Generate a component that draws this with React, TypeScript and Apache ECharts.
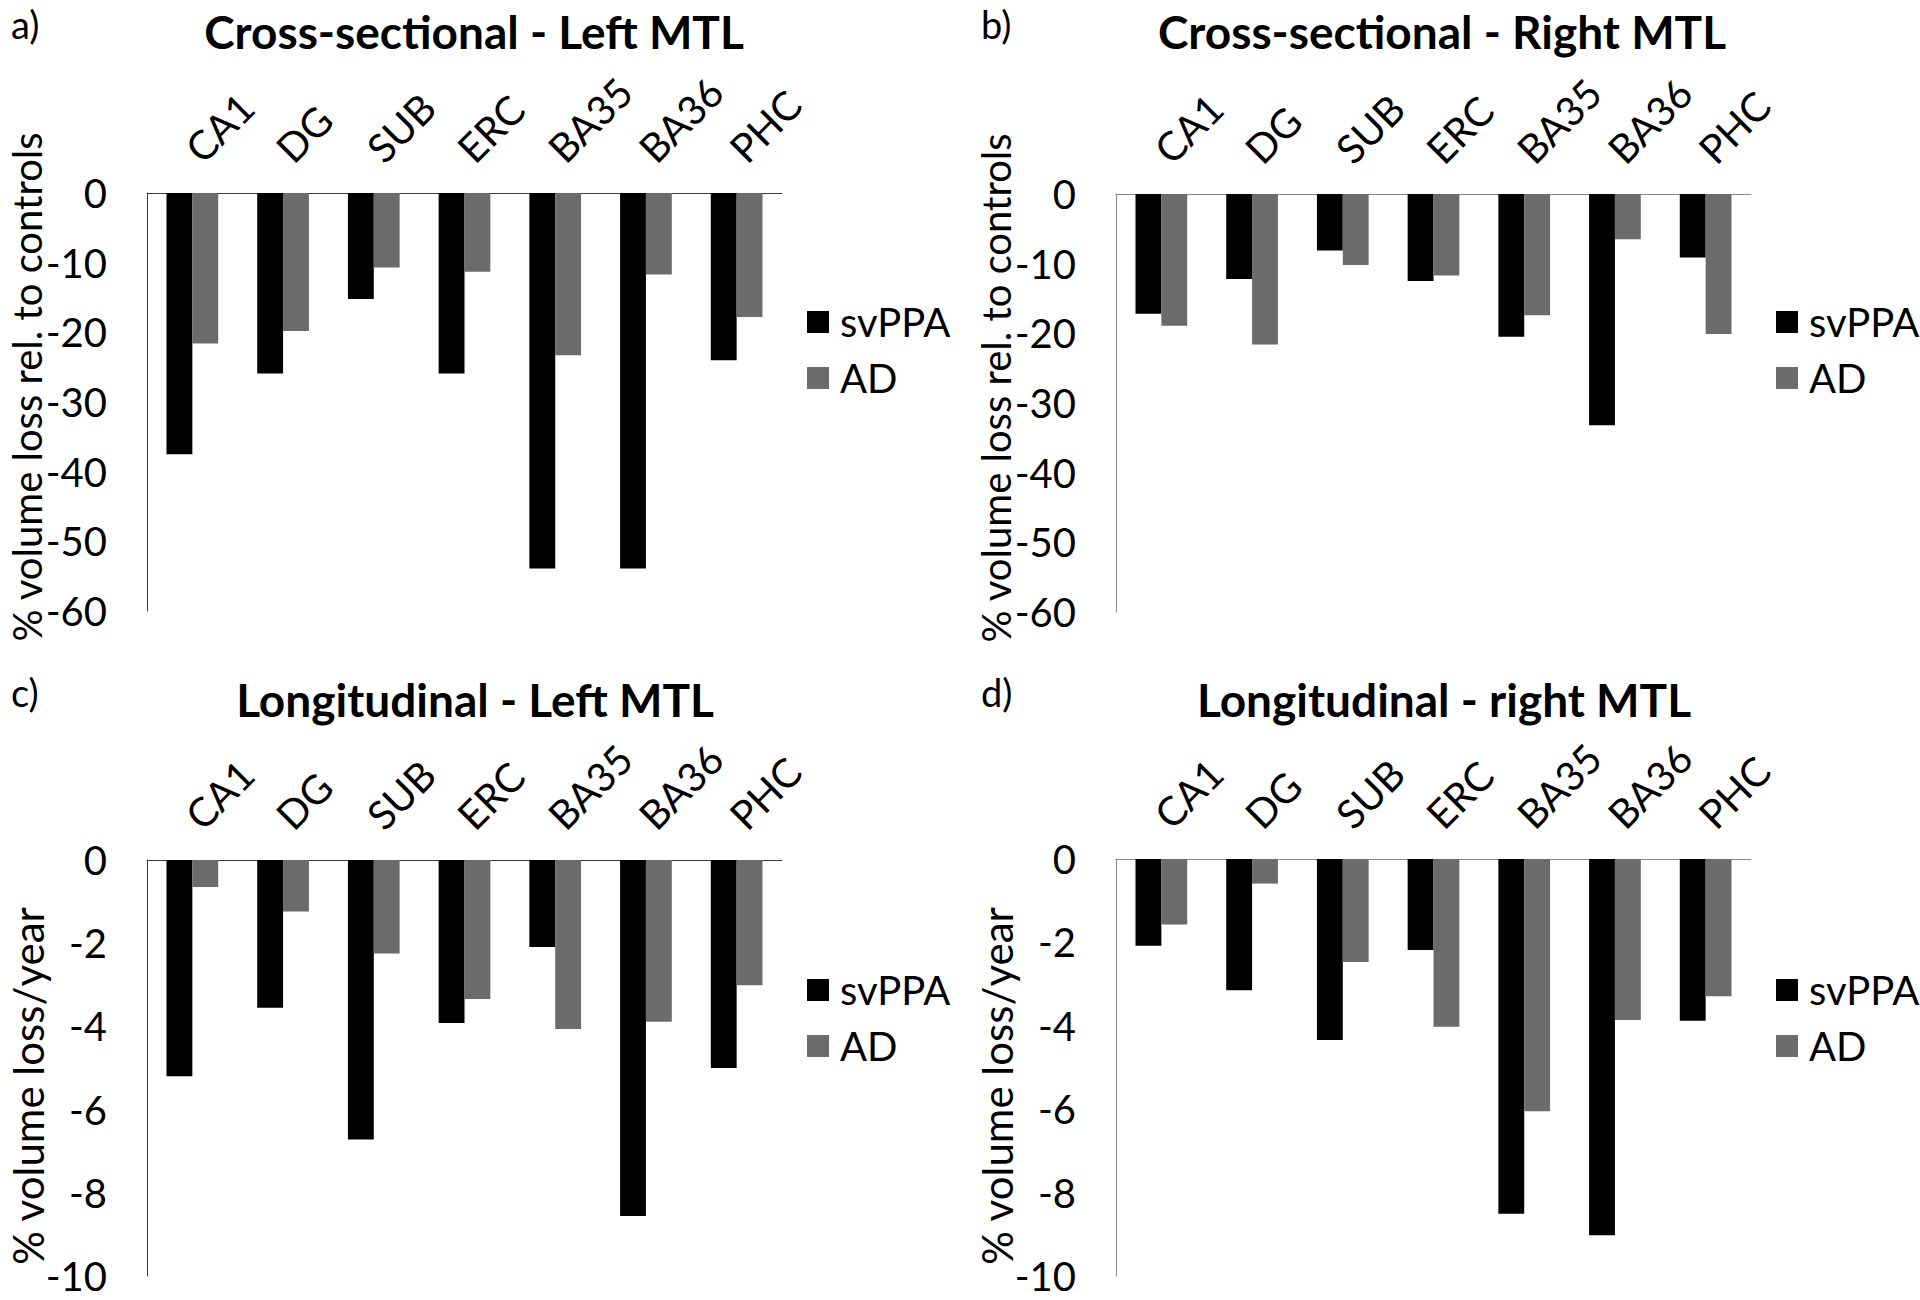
import React, { useEffect, useRef } from "react";
import * as echarts from "echarts";

const categories = ["CA1", "DG", "SUB", "ERC", "BA35", "BA36", "PHC"];
const seriesNames = ["svPPA", "AD"];

const crossLeftSvPPA = [-37.5, -25.9, -15.2, -25.9, -53.9, -53.9, -24.0];
const crossLeftAD = [-21.6, -19.8, -10.7, -11.3, -23.3, -11.7, -17.8];
const crossRightSvPPA = [-17.2, -12.2, -8.1, -12.5, -20.5, -33.2, -9.1];
const crossRightAD = [-18.9, -21.6, -10.2, -11.7, -17.4, -6.5, -20.1];
const longLeftSvPPA = [-5.2, -3.55, -6.72, -3.92, -2.09, -8.56, -5.0];
const longLeftAD = [-0.65, -1.24, -2.25, -3.34, -4.06, -3.89, -3.01];
const longRightSvPPA = [-2.08, -3.15, -4.34, -2.18, -8.51, -9.02, -3.88];
const longRightAD = [-1.57, -0.59, -2.47, -4.02, -6.05, -3.86, -3.29];

const panelTitles = [
  "Cross-sectional - Left MTL",
  "Cross-sectional - Right MTL",
  "Longitudinal - Left MTL",
  "Longitudinal - right MTL",
];
const panelLetters = ["a)", "b)", "c)", "d)"];
const yNames = [
  "% volume loss rel. to controls",
  "% volume loss rel. to controls",
  "% volume loss/year",
  "% volume loss/year",
];
const yMins = [-60, -60, -10, -10];
const yIntervals = [10, 10, 2, 2];

const FONT = "Lato";
const SV_COLOR = "#000000";
const AD_COLOR = "#6b6b6b";

const layout = [
  { left: 147, top: 193, height: 418, axisColor: "#3c3c3c", titleX: 469, titleY: 3, letterX: 6, letterY: 0, nameSize: 40, nameX: 27, nameY: 387, legendTop: 302 },
  { left: 1116, top: 194, height: 418, axisColor: "#8a8a8a", titleX: 1437, titleY: 3, letterX: 976, letterY: 0, nameSize: 40, nameX: 996, nameY: 388, legendTop: 302 },
  { left: 147, top: 860, height: 416, axisColor: "#3c3c3c", titleX: 470, titleY: 671, letterX: 6, letterY: 668, nameSize: 42, nameX: 28, nameY: 1086, legendTop: 970 },
  { left: 1116, top: 859, height: 417, axisColor: "#8a8a8a", titleX: 1439, titleY: 671, letterX: 976, letterY: 668, nameSize: 42, nameX: 997, nameY: 1086, legendTop: 970 },
];
const GRID_W = 635;

const panelData = [
  [crossLeftSvPPA, crossLeftAD],
  [crossRightSvPPA, crossRightAD],
  [longLeftSvPPA, longLeftAD],
  [longRightSvPPA, longRightAD],
];

export default function App() {
  const ref = useRef<HTMLDivElement>(null);

  useEffect(() => {
    document.body.style.margin = "0";
    if (!ref.current) return;
    const chart = echarts.init(ref.current, null, { renderer: "svg" });

    const grid: any[] = [];
    const xAxis: any[] = [];
    const yAxis: any[] = [];
    const series: any[] = [];
    const legend: any[] = [];
    const title: any[] = [];
    const graphic: any[] = [];

    layout.forEach((L, i) => {
      grid.push({
        left: L.left,
        top: L.top,
        width: GRID_W,
        height: L.height,
        containLabel: false,
        outerBoundsMode: "none",
      });
      xAxis.push({
        type: "category",
        gridIndex: i,
        data: categories,
        position: "top",
        axisLine: { show: true, lineStyle: { color: L.axisColor, width: 1 } },
        axisTick: { show: false },
        axisLabel: { rotate: 45, margin: 38, color: "#000", fontFamily: FONT, fontSize: 40 },
        splitLine: { show: false },
      });
      yAxis.push({
        type: "value",
        gridIndex: i,
        min: yMins[i],
        max: 0,
        interval: yIntervals[i],
        axisLine: { show: true, lineStyle: { color: L.axisColor, width: 1 } },
        axisTick: { show: false },
        axisLabel: { margin: 40, color: "#000", fontFamily: FONT, fontSize: 40, lineHeight: 36 },
        splitLine: { show: false },
      });
      panelData[i].forEach((vals, s) => {
        series.push({
          type: "bar",
          name: seriesNames[s],
          xAxisIndex: i,
          yAxisIndex: i,
          data: vals,
          barGap: "0%",
          barCategoryGap: "43%",
          itemStyle: { color: s === 0 ? SV_COLOR : AD_COLOR },
        });
      });
      legend.push({
        data: seriesNames,
        orient: "vertical",
        left: L.left + GRID_W + 25,
        top: L.legendTop,
        padding: 0,
        icon: "rect",
        itemWidth: 22,
        itemHeight: 22,
        itemGap: 16,
        textStyle: { color: "#000", fontFamily: FONT, fontSize: 40, padding: [0, 0, 0, 6] },
      });
      title.push({
        text: panelTitles[i],
        left: L.titleX,
        top: L.titleY,
        textAlign: "center",
        textStyle: { color: "#000", fontFamily: FONT, fontWeight: "bold", fontSize: 46 },
      });
      title.push({
        text: panelLetters[i],
        left: L.letterX,
        top: L.letterY,
        textStyle: { color: "#000", fontFamily: FONT, fontWeight: "normal", fontSize: 38 },
      });
      graphic.push({
        type: "text",
        x: L.nameX,
        y: L.nameY,
        rotation: Math.PI / 2,
        style: {
          text: yNames[i],
          fill: "#000",
          fontFamily: FONT,
          fontSize: L.nameSize,
          align: "center",
          verticalAlign: "middle",
        },
      });
    });

    chart.setOption({
      animation: false,
      backgroundColor: "#ffffff",
      title,
      grid,
      xAxis,
      yAxis,
      series,
      legend,
      graphic,
    });

    return () => chart.dispose();
  }, []);

  return <div ref={ref} style={{ width: 1920, height: 1300 }} />;
}
